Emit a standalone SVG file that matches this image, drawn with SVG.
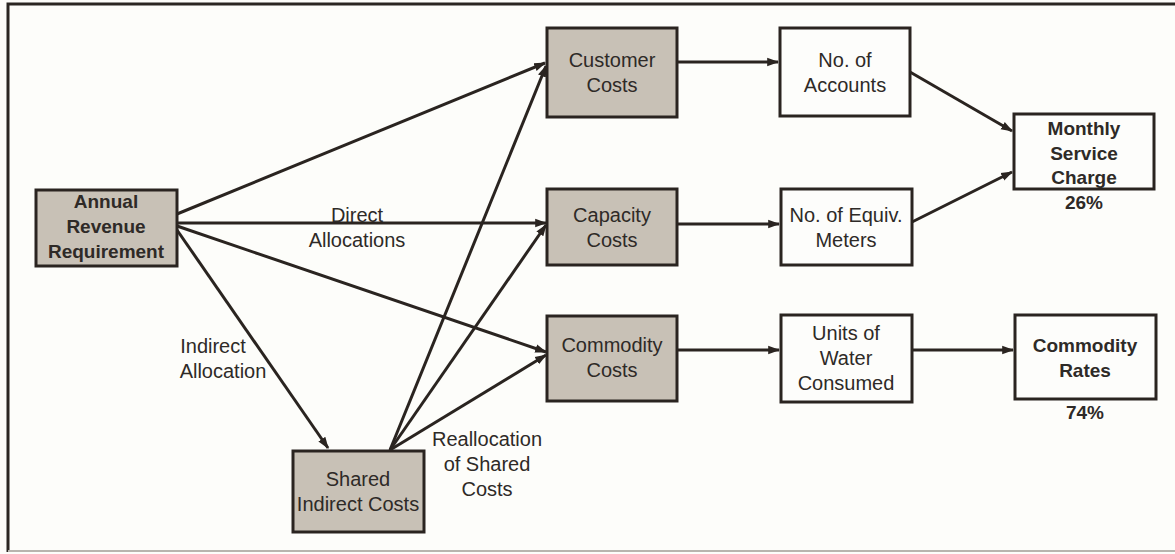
<svg xmlns="http://www.w3.org/2000/svg" width="1175" height="554" viewBox="0 0 1175 554">
<style>
.bg{fill:#fdfdfa}
.frame{fill:none;stroke:#2b2622;stroke-width:3}
.sh{fill:#c8c1b6;stroke:#2a2420;stroke-width:3}
.wh{fill:#fdfdfb;stroke:#2a2420;stroke-width:3}
text{font-family:"Liberation Sans",Arial,sans-serif;font-size:20px;fill:#2e2a27;text-anchor:middle}
.b{font-weight:bold;font-size:19px}
.c line{stroke:#2a2420;stroke-width:3;marker-end:url(#ah)}
</style>
<defs>
<marker id="ah" viewBox="0 0 10 10" refX="9" refY="5" markerWidth="4" markerHeight="4" orient="auto" markerUnits="strokeWidth">
<path d="M0,1.5 L10,5 L0,8.5 z" fill="#2a2420"/>
</marker>
</defs>
<rect class="bg" x="0" y="0" width="1175" height="554"/>
<path class="frame" d="M8,552 L8,4 L1175,4"/>
<line x1="8" y1="551" x2="1175" y2="551" stroke="#b8b4ae" stroke-width="2"/>
<g class="c" id="connectors">
<line x1="177" y1="214" x2="545" y2="63"/>
<line x1="177" y1="223" x2="546" y2="223"/>
<line x1="177" y1="226" x2="546" y2="352"/>
<line x1="177" y1="230" x2="328" y2="448"/>
<line x1="390" y1="450" x2="546" y2="66"/>
<line x1="390" y1="450" x2="546" y2="225"/>
<line x1="390" y1="450" x2="546" y2="355"/>
<line x1="677" y1="62" x2="778" y2="62"/>
<line x1="677" y1="224" x2="779" y2="224"/>
<line x1="677" y1="350" x2="779" y2="350"/>
<line x1="912" y1="350" x2="1013" y2="350"/>
<line x1="910" y1="72" x2="1012" y2="131"/>
<line x1="912" y1="222" x2="1012" y2="172"/>
</g>
<g id="annual"><rect class="sh" x="36" y="190" width="141" height="76"/>
<text class="b" x="106" y="208">Annual</text><text class="b" x="106" y="233">Revenue</text><text class="b" x="106" y="258">Requirement</text></g>
<g id="customer"><rect class="sh" x="547" y="28" width="130" height="89"/>
<text x="612" y="67">Customer</text><text x="612" y="92">Costs</text></g>
<g id="capacity"><rect class="sh" x="547" y="189" width="130" height="76"/>
<text x="612" y="222">Capacity</text><text x="612" y="247">Costs</text></g>
<g id="commodity"><rect class="sh" x="547" y="316" width="130" height="85"/>
<text x="612" y="352">Commodity</text><text x="612" y="377">Costs</text></g>
<g id="shared"><rect class="sh" x="293" y="451" width="131" height="81"/>
<text x="358" y="486">Shared</text><text x="358" y="511">Indirect Costs</text></g>
<g id="accounts"><rect class="wh" x="780" y="28" width="130" height="88"/>
<text x="845" y="67">No. of</text><text x="845" y="92">Accounts</text></g>
<g id="meters"><rect class="wh" x="781" y="189" width="131" height="76"/>
<text x="846" y="222">No. of Equiv.</text><text x="846" y="247">Meters</text></g>
<g id="units"><rect class="wh" x="781" y="315" width="131" height="87"/>
<text x="846" y="340">Units of</text><text x="846" y="365">Water</text><text x="846" y="390">Consumed</text></g>
<g id="monthly"><rect class="wh" x="1014" y="114" width="140" height="75"/>
<text class="b" x="1084" y="135">Monthly</text><text class="b" x="1084" y="160">Service</text><text class="b" x="1084" y="184">Charge</text>
<text class="b" x="1084" y="209">26%</text></g>
<g id="rates"><rect class="wh" x="1015" y="315" width="141" height="84"/>
<text class="b" x="1085" y="352">Commodity</text><text class="b" x="1085" y="377">Rates</text>
<text class="b" x="1085" y="419">74%</text></g>
<g id="labels">
<text x="357" y="222">Direct</text><text x="357" y="247">Allocations</text>
<text x="213" y="353">Indirect</text><text x="223" y="378">Allocation</text>
<text x="487" y="446">Reallocation</text><text x="487" y="471">of Shared</text><text x="487" y="496">Costs</text>
</g>
</svg>
